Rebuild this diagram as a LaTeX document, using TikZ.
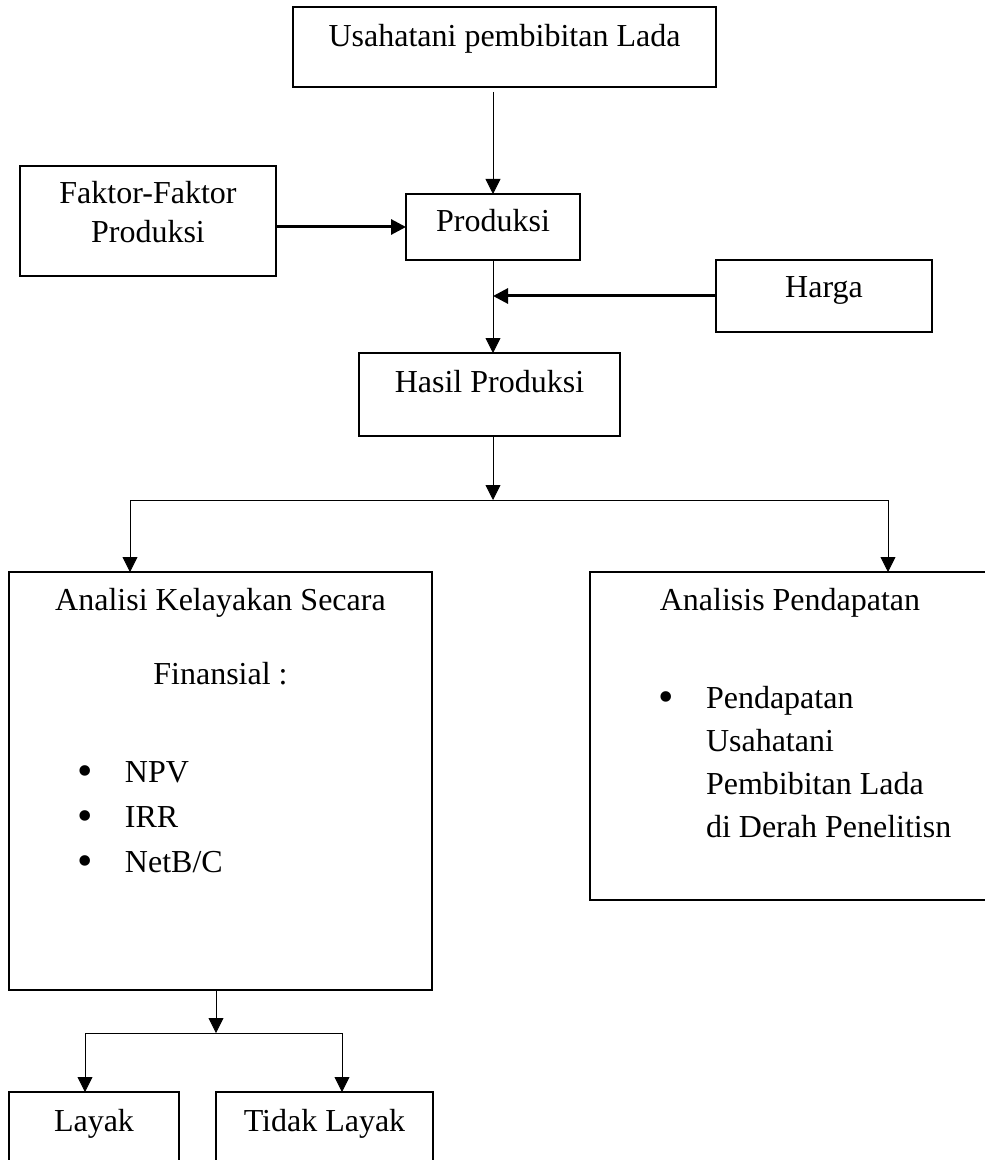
\documentclass[tikz,border=0pt]{standalone}
\usepackage{fontspec}
\setmainfont{Liberation Serif}
\usetikzlibrary{
  arrows.meta,     % filled triangle tips
  positioning      % positions like below of node
}
% list lines inside the big boxes
\newcommand{\bigbullet}{\raisebox{-1.6pt}{\fontsize{22pt}{22pt}\selectfont\textbullet}}
\newcommand{\bulletline}[2]{\makebox[#1][l]{\makebox[58pt][l]{\hspace{34pt}\bigbullet}#2}}
\newcommand{\indentline}[2]{\makebox[#1][l]{\hspace{58pt}#2}}
\tikzset{
  every node/.style = {
    rectangle,
    draw,
    line width=1pt,
    inner sep=0pt,
    outer sep=0pt,
    font=\fontsize{16pt}{22pt}\selectfont
  },
  bigbox/.style = {text height=19pt},
  thick-arrow/.style = {line width=1.5pt},
  line width=1.1pt,
  ->,        % arrows for all
  >={Triangle[length=7.5pt,width=7.5pt]}  % arrow type
}

\begin{document}
\begin{tikzpicture}

  \useasboundingbox (0,0) rectangle (492pt,-580pt);

  %% nodes
  \node[minimum width=211.5pt, text height=20pt, text depth=20pt] (UL) at (252.25pt,-23.5pt)
    {Usahatani pembibitan Lada};

  \node[minimum width=87pt, text height=19pt, text depth=14pt] (PR)
    [below=53.5pt of UL, xshift=-5.75pt] {Produksi};

  \node[text height=19pt, text depth=36pt] (FF) [left=65pt of PR, yshift=3pt]
    {\parbox[t]{128pt}{\centering Faktor-Faktor\\[-2.5pt]Produksi}};

  \node[minimum width=108pt, text height=19pt, text depth=17pt] (HG)
    [below right=0pt and 68pt of PR] {Harga};

  \node[minimum width=130.5pt, text height=19.5pt, text depth=22pt] (HP)
    [below=46.5pt of PR, xshift=-1.75pt] {Hasil Produksi};

  \node[bigbox, text depth=190pt] (AK) [below=68pt of HP, xshift=-134.5pt]
    {\parbox[t]{211.5pt}{\centering Analisi Kelayakan Secara\\[15pt]
      Finansial :\\[27pt]
      \bulletline{211.5pt}{NPV}\\[0.5pt]
      \bulletline{211.5pt}{IRR}\\[0.5pt]
      \bulletline{211.5pt}{NetB/C}}};

  \node[bigbox, text depth=145pt] (AP) [below right=0pt and 79pt of AK.north east]
    {\parbox[t]{200pt}{\centering Analisis Pendapatan\\[27pt]
      \bulletline{200pt}{Pendapatan}\\[-0.5pt]
      \indentline{200pt}{Usahatani}\\[-0.5pt]
      \indentline{200pt}{Pembibitan Lada}\\[-0.5pt]
      \indentline{200pt}{di Derah Penelitisn}}};

  \node[minimum width=85pt, text height=19.5pt, text depth=30pt] (LY)
    [below=51pt of AK.south west, anchor=north west] {Layak};
  \node[minimum width=108.5pt, text height=19.5pt, text depth=30pt] (TL)
    [right=18.5pt of LY] {Tidak Layak};

  %% arrows
  \draw ([yshift=-2.5pt]PR.north |- UL.south) -- (PR.north);
  \draw[thick-arrow] (FF.east |- PR.west) -- (PR.west);
  \draw (PR.south) -- (PR.south |- HP.north);
  \draw[thick-arrow] (HG.west) -- (HG.west -| PR.south);

  \draw (PR.south |- HP.south) -- ++(0,-32pt) coordinate (J1);
  \draw (J1) -| ([xshift=-45.25pt]AK.north);
  \draw (J1) -| ([xshift=49pt]AP.north);

  \draw ([xshift=-2.25pt]AK.south) -- ++(0,-21.5pt) coordinate (J2);
  \draw (J2) -| ([xshift=-4.5pt]LY.north);
  \draw (J2) -| ([xshift=8.75pt]TL.north);

\end{tikzpicture}
\end{document}
